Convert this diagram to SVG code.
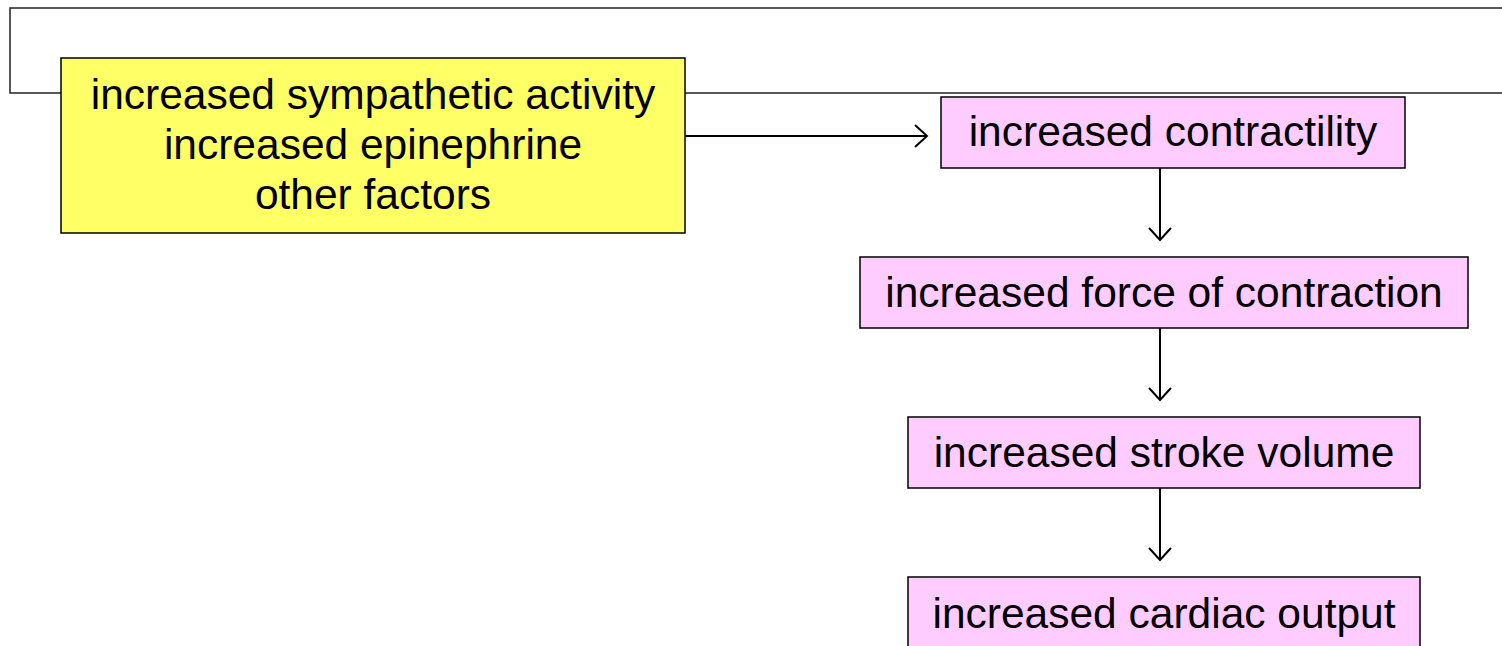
<svg xmlns="http://www.w3.org/2000/svg" width="1502" height="646" viewBox="0 0 1502 646">
<style>
.t{font-family:"Liberation Sans",Arial,sans-serif;font-size:42.5px;fill:#000;text-anchor:middle}
.box{stroke:#000;stroke-width:1.5}
.c{stroke:#000;stroke-width:2;fill:none}
</style>
<defs>
<marker id="ah" markerWidth="16" markerHeight="26" refX="14" refY="12" orient="auto" markerUnits="userSpaceOnUse">
<path d="M2,1 L14,12 L2,23" fill="none" stroke="#000" stroke-width="2"/>
</marker>
</defs>
<rect width="1502" height="646" fill="#fff"/>
<g id="frame"><path d="M1510,8 H10 V93 H1510" fill="none" stroke="#222" stroke-width="1.5"/></g>
<g id="connectors">
<line class="c" x1="685" y1="136" x2="927" y2="136" marker-end="url(#ah)"/>
<line class="c" x1="1160" y1="168" x2="1160" y2="240" marker-end="url(#ah)"/>
<line class="c" x1="1160" y1="328" x2="1160" y2="400" marker-end="url(#ah)"/>
<line class="c" x1="1160" y1="488" x2="1160" y2="560" marker-end="url(#ah)"/>
</g>
<g id="factors">
<rect class="box" x="61" y="58" width="624" height="175" fill="#FFFF66"/>
<text class="t" x="373" y="109">increased sympathetic activity</text>
<text class="t" x="373" y="159">increased epinephrine</text>
<text class="t" x="373" y="209">other factors</text>
</g>
<g id="contractility">
<rect class="box" x="941" y="97" width="464" height="71" fill="#FFCCFF"/>
<text class="t" x="1173" y="146">increased contractility</text>
</g>
<g id="force">
<rect class="box" x="860" y="257" width="608" height="71" fill="#FFCCFF"/>
<text class="t" x="1164" y="307">increased force of contraction</text>
</g>
<g id="stroke">
<rect class="box" x="908" y="417" width="512" height="71" fill="#FFCCFF"/>
<text class="t" x="1164" y="467">increased stroke volume</text>
</g>
<g id="output">
<rect class="box" x="908" y="577" width="512" height="80" fill="#FFCCFF"/>
<text class="t" x="1164" y="628">increased cardiac output</text>
</g>
</svg>
